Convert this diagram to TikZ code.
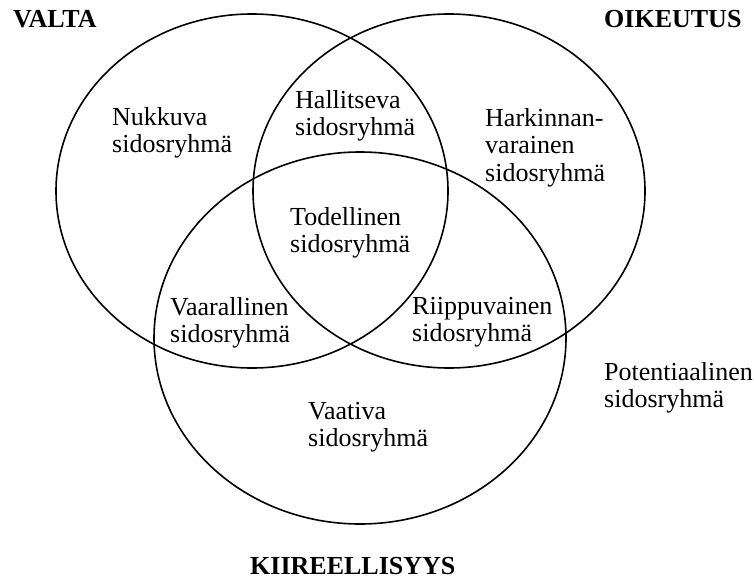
\documentclass[tikz,border=0pt]{standalone}
\usepackage{fontspec}
\setmainfont{Liberation Serif}
\begin{document}
\begin{tikzpicture}[x=1pt,y=-1pt,
  lbl/.style={anchor=north west, inner sep=0pt, align=left, font=\fontsize{26}{27.5}\selectfont},
  head/.style={anchor=north west, inner sep=0pt, font=\fontsize{26}{27}\selectfont\bfseries},
  setline/.style={line width=1.6pt}]
\useasboundingbox (0,0) rectangle (754,580);
% sets
\draw[setline] (252,191) ellipse [x radius=196pt, y radius=177pt];
\draw[setline] (449,191) ellipse [x radius=196pt, y radius=177pt];
\draw[setline] (360,338) ellipse [x radius=206pt, y radius=186pt];
% headings
\node[head] (valta) at (13,10) {VALTA};
\node[head] (oikeutus) at (604,10) {OIKEUTUS};
\node[head] (kiire) at (250,557) {KIIREELLISYYS};
% regions
\node[lbl] (nukkuva) at (112,107) {Nukkuva\\sidosryhmä};
\node[lbl] (hallitseva) at (295,90) {Hallitseva\\sidosryhmä};
\node[lbl] (todellinen) at (290,207) {Todellinen\\sidosryhmä};
\node[lbl] (harkinnan) at (485,108) {Harkinnan-\\varainen\\sidosryhmä};
\node[lbl] (vaarallinen) at (170,297) {Vaarallinen\\sidosryhmä};
\node[lbl] (riippuvainen) at (412,297) {Riippuvainen\\sidosryhmä};
\node[lbl] (vaativa) at (308,402) {Vaativa\\sidosryhmä};
\node[lbl] (potentiaalinen) at (604,362) {Potentiaalinen\\sidosryhmä};
\end{tikzpicture}
\end{document}
